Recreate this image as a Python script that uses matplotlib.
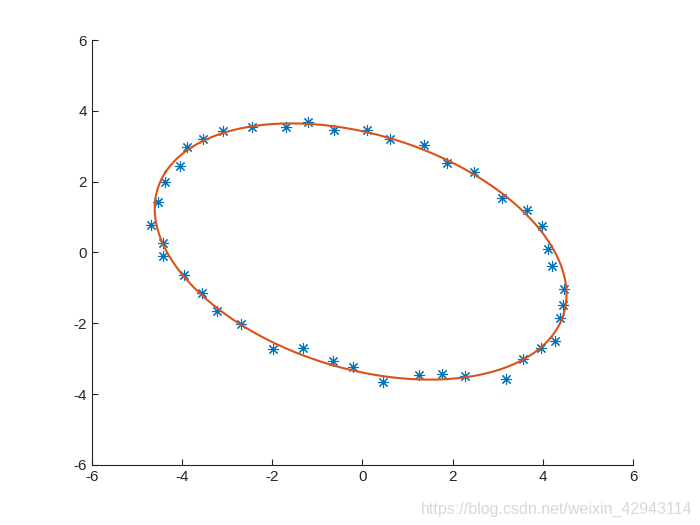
import numpy as np
from matplotlib import pyplot as plt

# points
x = [-3.97, -4.43, -4.42, -4.69, -4.54, -4.37, -4.05, -3.89, -3.53, -3.09,
     -2.44, -1.70, -1.20, -0.63, 0.11, 0.61, 1.37, 1.87, 2.48, 3.09,
     3.64, 3.99, 4.11, 4.21, 4.48, 4.45, 4.37, 4.28, 3.96, 3.57,
     3.18, 2.27, 1.76, 1.26, 0.46, -0.20, -0.65, -1.31, -1.98, -2.70,
     -3.22, -3.56]
y = [-0.64, -0.10, 0.28, 0.78, 1.43, 1.98, 2.45, 2.97, 3.20, 3.43,
     3.54, 3.55, 3.68, 3.46, 3.46, 3.20, 3.03, 2.52, 2.28, 1.53,
     1.20, 0.75, 0.09, -0.38, -1.04, -1.48, -1.86, -2.49, -2.71, -3.01,
     -3.58, -3.49, -3.44, -3.46, -3.67, -3.22, -3.06, -2.69, -2.72, -2.03,
     -1.65, -1.13]
xticks = [-6, -4, -2, 0, 2, 4, 6]
yticks = [-6, -4, -2, 0, 2, 4, 6]

# least squares conic fit: A x^2 + B xy + C y^2 + D x + E y = 1
px = np.array(x)
py = np.array(y)
G = np.column_stack([px**2, px*py, py**2, px, py])
A, B, C, D, E = np.linalg.lstsq(G, np.ones(len(px)), rcond=None)[0]
x0, y0 = np.linalg.solve([[2*A, B], [B, 2*C]], [-D, -E])
F = A*x0**2 + B*x0*y0 + C*y0**2 + D*x0 + E*y0 - 1
lam, V = np.linalg.eigh([[A, B/2], [B/2, C]])
semi = np.sqrt(-F / lam)
t = np.linspace(0, 2*np.pi, 400)
uv = V @ np.vstack([semi[0]*np.cos(t), semi[1]*np.sin(t)])
ex = uv[0] + x0
ey = uv[1] + y0

plt.rcParams['font.family'] = ['Liberation Sans', 'DejaVu Sans']
plt.rcParams['axes.unicode_minus'] = False
fig = plt.figure(figsize=(7, 5.25), dpi=100)
ax = fig.add_axes([0.1314, 0.1143, 0.7729, 0.8095])

ax.plot(px, py, linestyle='none', marker=(8, 2, 0), markersize=8,
        markeredgewidth=0.8, color='#0072BD')
ax.plot(ex, ey, color='#D95319', linewidth=1.5)

ax.set_xlim(-6, 6)
ax.set_ylim(-6, 6)
ax.set_xticks(xticks)
ax.set_yticks(yticks)
ax.spines['top'].set_visible(False)
ax.spines['right'].set_visible(False)
for s in ['left', 'bottom']:
    ax.spines[s].set_linewidth(0.8)
    ax.spines[s].set_color('#262626')
ax.tick_params(direction='in', length=4, width=0.8, labelsize=11,
               colors='#262626')

fig.text(0.99, 0.015, 'https://blog.csdn.net/weixin_42943114', ha='right',
         va='bottom', fontsize=11.5, color='#d8d8d8')

fig.savefig('out.png', dpi=100)
